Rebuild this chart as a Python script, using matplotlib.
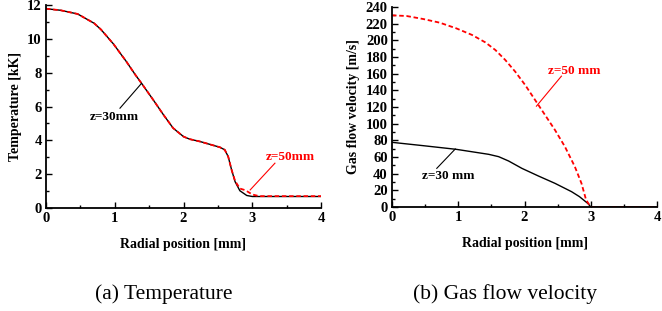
import matplotlib
matplotlib.use("Agg")
import matplotlib.pyplot as plt
from matplotlib.ticker import MultipleLocator

plt.rcParams['font.family'] = ['Liberation Serif', 'DejaVu Serif']

# temperature profiles [kK] vs radial position [mm]
r_t30 = [0.0, 0.21, 0.46, 0.70, 0.80, 0.98, 1.17, 1.30, 1.39, 1.56, 1.71, 1.85, 2.0, 2.09,
         2.24, 2.53, 2.60, 2.65, 2.70, 2.75, 2.82, 2.92, 3.0, 3.2, 3.6, 4.0]
temp_z30 = [11.78, 11.69, 11.47, 10.92, 10.55, 9.7, 8.65, 7.87, 7.37, 6.39, 5.5, 4.72, 4.22,
            4.07, 3.93, 3.59, 3.44, 3.04, 2.25, 1.56, 1.02, 0.74, 0.68, 0.68, 0.68, 0.68]
r_t50 = [0.0, 0.21, 0.46, 0.70, 0.80, 0.98, 1.17, 1.30, 1.39, 1.56, 1.71, 1.85, 2.0, 2.09,
         2.24, 2.53, 2.60, 2.65, 2.70, 2.75, 2.82, 2.90, 3.0, 3.1, 3.6, 4.0]
temp_z50 = [11.78, 11.69, 11.47, 10.92, 10.55, 9.7, 8.65, 7.87, 7.37, 6.39, 5.5, 4.72, 4.22,
            4.07, 3.93, 3.59, 3.44, 3.04, 2.25, 1.6, 1.15, 1.05, 0.8, 0.7, 0.7, 0.7]

# gas flow velocity [m/s] vs radial position [mm]
r_v30 = [0.0, 0.47, 0.97, 1.46, 1.61, 1.76, 1.96, 2.21, 2.46, 2.71, 2.83, 2.96, 3.0, 3.5, 4.0]
vel_z30 = [77.6, 73.6, 69.2, 63.2, 60.4, 55.2, 46.4, 37.2, 28.4, 18.4, 12.4, 4, 0, 0, 0]
r_v50 = [0.0, 0.22, 0.47, 0.72, 0.97, 1.21, 1.41, 1.56, 1.71, 1.86, 2.01, 2.16, 2.31, 2.46,
         2.61, 2.76, 2.86, 2.93, 3.0, 3.5, 4.0]
vel_z50 = [230, 229.2, 225.6, 221.2, 214.4, 206.4, 197.5, 188.4, 176.4, 162.4, 146.4, 128.4,
           110.4, 92.4, 72.4, 48.4, 28.4, 8.4, 0, 0, 0]

fig = plt.figure(figsize=(6.62, 3.11), dpi=100)
ax1 = fig.add_axes([46 / 662, 1 - 208 / 311, 275 / 662, 203 / 311])
ax2 = fig.add_axes([392 / 662, 1 - 207 / 311, 265 / 662, 200 / 311])

bold = dict(fontweight='bold', fontsize=10)

for ax in (ax1, ax2):
    ax.spines['top'].set_visible(False)
    ax.spines['right'].set_visible(False)
    ax.spines['left'].set_linewidth(1.3)
    ax.spines['bottom'].set_linewidth(1.3)
    ax.tick_params(which='both', direction='in', width=1.0)
    ax.tick_params(which='major', length=4, labelsize=10.5, pad=3)
    ax.tick_params(which='minor', length=2.5)
    ax.set_xlim(0, 4)
    ax.xaxis.set_major_locator(MultipleLocator(1))
    ax.xaxis.set_minor_locator(MultipleLocator(0.5))
    ax.set_xlabel('Radial position [mm]', labelpad=9, **bold)

# (a) temperature
ax1.plot(r_t30, temp_z30, color='black', lw=1.0)
ax1.plot(r_t50, temp_z50, color='red', lw=1.3, ls=(0, (2.5, 1.5)))
ax1.set_ylim(0, 12)
ax1.yaxis.set_major_locator(MultipleLocator(2))
ax1.yaxis.set_minor_locator(MultipleLocator(1))
ax1.set_ylabel('Temperature [kK]', labelpad=4, **bold)
ax1.plot([1.076, 1.39], [5.9, 7.37], color='black', lw=0.8)
ax1.text(1.0, 5.38, 'z=30mm', ha='center', va='center', fontsize=9.5, fontweight='bold')
ax1.plot([3.33, 2.97], [2.65, 1.07], color='red', lw=0.8)
ax1.text(3.2, 3.0, 'z=50mm', ha='left', va='center', fontsize=9.5, fontweight='bold',
         color='red')

# (b) velocity
ax2.plot(r_v30, vel_z30, color='black', lw=1.0)
ax2.plot(r_v50, vel_z50, color='red', lw=1.3, ls=(0, (2.5, 1.5)))
ax2.set_ylim(0, 240)
ax2.yaxis.set_major_locator(MultipleLocator(20))
ax2.yaxis.set_minor_locator(MultipleLocator(10))
ax2.set_ylabel('Gas flow velocity [m/s]', labelpad=4, **bold)
ax2.plot([0.676, 0.955], [46.4, 69.6], color='black', lw=0.8)
ax2.text(0.45, 37, 'z=30 mm', ha='left', va='center', fontsize=9.5, fontweight='bold')
ax2.plot([2.557, 2.18], [157, 121], color='red', lw=0.8)
ax2.text(2.35, 163, 'z=50 mm', ha='left', va='center', fontsize=9.5, fontweight='bold',
         color='red')

for ax in (ax1, ax2):
    for lab in ax.get_xticklabels() + ax.get_yticklabels():
        lab.set_fontweight('bold')

fig.text(164 / 662, 1 - 294 / 311, '(a) Temperature', ha='center', va='center', fontsize=15.5)
fig.text(505 / 662, 1 - 294 / 311, '(b) Gas flow velocity', ha='center', va='center',
         fontsize=15.5)

fig.savefig('out.png', dpi=100)
